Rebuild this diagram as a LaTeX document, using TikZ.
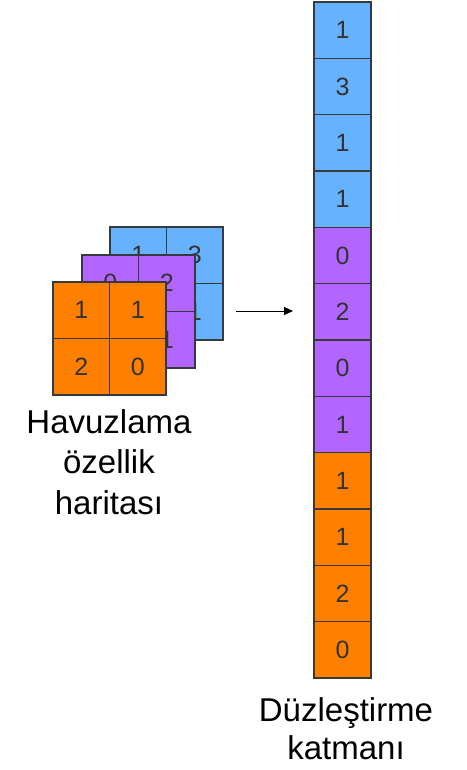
\documentclass[tikz,border=0pt]{standalone}
\usepackage{fontspec}
\setmainfont{Liberation Sans}
\usetikzlibrary{arrows.meta}
\definecolor{cblue}{HTML}{66B2FF}
\definecolor{cpurple}{HTML}{B266FF}
\definecolor{corange}{HTML}{FF8000}
\definecolor{cline}{HTML}{36393D}
\definecolor{ctext}{HTML}{333333}
\begin{document}
\begin{tikzpicture}[x=1pt,y=-1pt,
  gcell/.style={draw=cline, line width=1.1pt, minimum width=56.5pt, minimum height=56.5pt,
    inner sep=0pt, font=\fontsize{25}{25}\selectfont, text=ctext},
  fcell/.style={draw=cline, line width=1.1pt, minimum width=57pt, minimum height=56.33pt,
    inner sep=0pt, font=\fontsize{25}{25}\selectfont, text=ctext},
  lbl/.style={align=center, inner sep=0pt, text=black},
  arr/.style={draw=black, line width=0.9pt, -{Triangle[length=9pt,width=8pt]}}]
\useasboundingbox (0,0) rectangle (466,770);
% stacked pooled feature maps
\foreach \col/\x/\y/\a/\b/\c/\d/\n in {cblue/110/227/1/3/1/1/b, cpurple/82/255/0/2/0/1/p, corange/53/282/1/1/2/0/o} {
  \node[gcell,fill=\col] (\n11) at (\x+28.25,\y+28.25) {\a};
  \node[gcell,fill=\col] (\n12) at (\x+84.75,\y+28.25) {\b};
  \node[gcell,fill=\col] (\n21) at (\x+28.25,\y+84.75) {\c};
  \node[gcell,fill=\col] (\n22) at (\x+84.75,\y+84.75) {\d};
}
% flattened column
\foreach \v/\c [count=\i] in {1/cblue,3/cblue,1/cblue,1/cblue,0/cpurple,2/cpurple,0/cpurple,1/cpurple,1/corange,1/corange,2/corange,0/corange} {
  \node[fcell,fill=\c] (f\i) at (342.5,{2+56.33*(\i-0.5)}) {\v};
}
% arrow
\coordinate (as) at (236,311);
\coordinate (ae) at (293,311);
\draw[arr] (as) -- (ae);
% labels
\node[lbl, anchor=north, font=\fontsize{33}{40.5}\selectfont] (lh) at (109,409) {Havuzlama\\özellik\\haritası};
\node[lbl, anchor=north, font=\fontsize{33}{38}\selectfont] (ld) at (346,697) {Düzleştirme\\katmanı};
\end{tikzpicture}
\end{document}
